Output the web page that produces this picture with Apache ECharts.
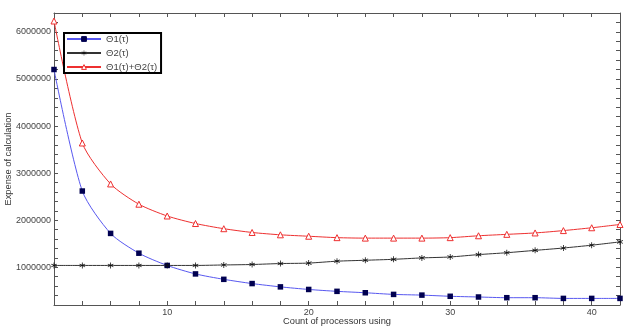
<!DOCTYPE html>
<html><head><meta charset="utf-8">
<script src="https://cdn.jsdelivr.net/npm/echarts@6/dist/echarts.min.js"></script>
<style>html,body{margin:0;padding:0;background:#fff}#c{width:642px;height:328px}</style>
</head><body><div id="c"></div>
<script>
const processors = [2,4,6,8,10,12,14,16,18,20,22,24,26,28,30,32,34,36,38,40,42];
const theta1 = [5200000,2620000,1720000,1300000,1040000,860000,745000,655000,585000,530000,490000,460000,425000,410000,385000,370000,355000,355000,340000,340000,340000];
const theta2 = [1040000,1040000,1040000,1040000,1040000,1040000,1050000,1060000,1080000,1090000,1130000,1150000,1170000,1200000,1220000,1270000,1310000,1360000,1410000,1470000,1540000];
const thetaSum = [6230000,3640000,2770000,2340000,2090000,1930000,1820000,1740000,1690000,1660000,1630000,1620000,1620000,1620000,1630000,1670000,1700000,1730000,1780000,1840000,1910000];
const names = ['Θ1(τ)','Θ2(τ)','Θ1(τ)+Θ2(τ)'];
const xLabels = [10,20,30,40];
const yLabels = [1000000,2000000,3000000,4000000,5000000,6000000];

const asterisk = 'path://M-0.6,-5 L0.6,-5 L0.6,-1.04 L4.03,-3.02 L4.63,-1.98 L1.2,0 L4.63,1.98 L4.03,3.02 L0.6,1.04 L0.6,5 L-0.6,5 L-0.6,1.04 L-4.03,3.02 L-4.63,1.98 L-1.2,0 L-4.63,-1.98 L-4.03,-3.02 L-0.6,-1.04 Z';
const font = 'Liberation Sans, Arial, sans-serif';
const axisCol = '#555';
const labCol = '#444';

function pair(xs, ys){ return xs.map((x,i)=>[x, ys[i]]); }

const chart = echarts.init(document.getElementById('c'), null, {renderer:'canvas'});
const xCommon = {
  type:'value', min:2, max:42, interval:2,
  axisLine:{lineStyle:{color:axisCol, width:1}},
  axisTick:{inside:true, length:4, lineStyle:{color:axisCol}},
  splitLine:{show:false}
};
const yCommon = {
  type:'value', min:200000, max:6400000, interval:200000,
  axisLine:{show:true, lineStyle:{color:axisCol, width:1}},
  axisTick:{show:true, inside:true, length:4, lineStyle:{color:axisCol}},
  splitLine:{show:false}
};
chart.setOption({
  animation:false,
  backgroundColor:'#fff',
  grid:{left:54, right:22, top:13, bottom:23, containLabel:false, outerBoundsMode:'none'},
  legend:{
    left:64, top:33, orient:'vertical',
    data:names,
    borderColor:'#000', borderWidth:2, borderRadius:0,
    padding:[1,4,1,2],
    itemWidth:34, itemHeight:6, itemGap:4,
    itemStyle:{borderWidth:1},
    symbolKeepAspect:true,
    textStyle:{fontFamily:font, fontSize:9.5, color:labCol, lineHeight:10}
  },
  xAxis:[
    Object.assign({}, xCommon, {position:'bottom',
      name:'Count of processors using', nameLocation:'middle', nameGap:12, nameMoveOverlap:false,
      nameTextStyle:{fontFamily:font, fontSize:9.3, color:'#333'},
      axisLabel:{fontFamily:font, fontSize:9, color:labCol, margin:3,
        formatter:v=> xLabels.indexOf(v)>=0 ? String(v) : ''}}),
    Object.assign({}, xCommon, {position:'top', axisLabel:{show:false}})
  ],
  yAxis:[
    Object.assign({}, yCommon, {position:'left',
      name:'Expense of calculation', nameLocation:'middle', nameGap:41, nameMoveOverlap:false,
      nameTextStyle:{fontFamily:font, fontSize:9.3, color:'#333'},
      axisLabel:{fontFamily:font, fontSize:9, color:labCol, margin:3,
        formatter:v=> yLabels.indexOf(v)>=0 ? String(v) : ''}}),
    Object.assign({}, yCommon, {position:'right', axisLabel:{show:false}})
  ],
  series:[
    {name:names[0], type:'line', data:pair(processors, theta1), smooth:0.25,
      symbol:'rect', symbolSize:5.5, showSymbol:true,
      lineStyle:{color:'#5858f0', width:1},
      itemStyle:{color:'#000050', borderColor:'#000050', borderWidth:0}},
    {name:names[1], type:'line', data:pair(processors, theta2), smooth:0.25,
      symbol:asterisk, symbolSize:6,
      lineStyle:{color:'#333', width:1},
      itemStyle:{color:'#111', borderWidth:0}},
    {name:names[2], type:'line', data:pair(processors, thetaSum), smooth:0.25,
      symbol:'triangle', symbolSize:6,
      lineStyle:{color:'#ee3030', width:1},
      itemStyle:{color:'#fff', borderColor:'#ee3030', borderWidth:1}}
  ]
});
</script></body></html>
